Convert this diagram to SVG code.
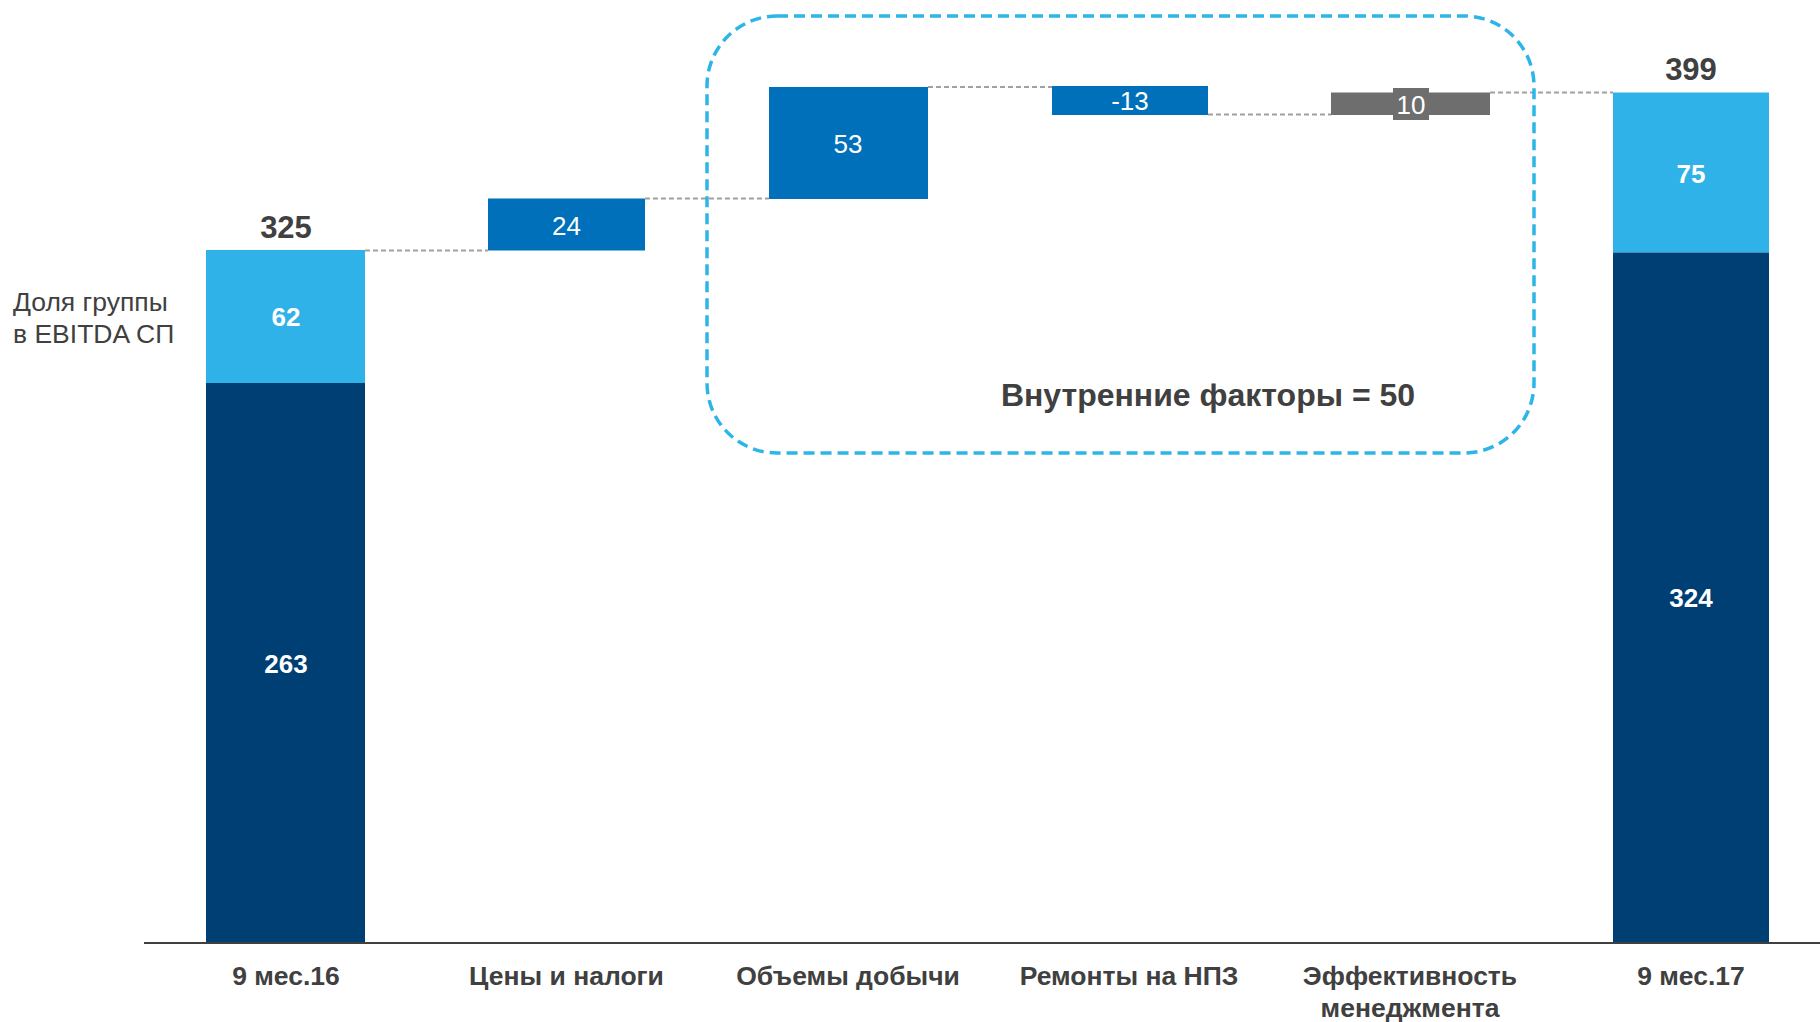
<svg xmlns="http://www.w3.org/2000/svg" width="1820" height="1022" viewBox="0 0 1820 1022">
<style>
.lb{fill:#2EB2E8}
.dk{fill:#003F74}
.md{fill:#0070BA}
.gr{fill:#6E6E6E}
.conn{stroke:#A0A0A0;stroke-width:2;stroke-dasharray:5 3;fill:none}
.t{font-family:"Liberation Sans",Arial,sans-serif}
.wb{fill:#fff;font-weight:bold;font-size:26px;text-anchor:middle}
.wn{fill:#fff;font-size:26px;text-anchor:middle}
.tot{fill:#404040;font-weight:bold;font-size:31px;text-anchor:middle}
.ax{fill:#404040;font-weight:bold;font-size:26.5px;text-anchor:middle}
</style>
<rect width="1820" height="1022" fill="#fff"/>
<g id="connectors">
<line class="conn" x1="365" y1="250.5" x2="488" y2="250.5"/>
<line class="conn" x1="645" y1="198.5" x2="769" y2="198.5"/>
<line class="conn" x1="928" y1="87" x2="1052" y2="87"/>
<line class="conn" x1="1208" y1="114.5" x2="1331" y2="114.5"/>
<line class="conn" x1="1490" y1="92.5" x2="1613" y2="92.5"/>
</g>
<g id="internal-box">
<rect x="707" y="16" width="827" height="437" rx="70" ry="70" fill="none" stroke="#2EB5E8" stroke-width="3.5" stroke-dasharray="11 6"/>
<text class="t" x="1208" y="406" font-size="32" font-weight="bold" fill="#404040" text-anchor="middle">Внутренние факторы = 50</text>
</g>
<g id="legend">
<text class="t" x="13" y="311" font-size="26.5" fill="#404040">Доля группы</text>
<text class="t" x="13" y="343" font-size="26.5" fill="#404040">в EBITDA СП</text>
</g>
<g id="bar-9m16">
<rect class="lb" x="206" y="250" width="159" height="133"/>
<rect class="dk" x="206" y="383" width="159" height="560"/>
<text class="t tot" x="286" y="238">325</text>
<text class="t wb" x="286" y="326">62</text>
<text class="t wb" x="286" y="673">263</text>
</g>
<g id="bar-prices">
<rect class="md" x="488" y="198.5" width="157" height="52"/>
<text class="t wn" x="566.5" y="235">24</text>
</g>
<g id="bar-volumes">
<rect class="md" x="769" y="87" width="159" height="112"/>
<text class="t wn" x="848" y="153">53</text>
</g>
<g id="bar-repairs">
<rect class="md" x="1052" y="86" width="156" height="29"/>
<text class="t wn" x="1130" y="110">-13</text>
</g>
<g id="bar-efficiency">
<rect class="gr" x="1331" y="92.5" width="159" height="22.5"/>
<rect class="gr" x="1393" y="88" width="36" height="32"/>
<text class="t wn" x="1411" y="114">10</text>
</g>
<g id="bar-9m17">
<rect class="lb" x="1613" y="92.5" width="156" height="160"/>
<rect class="dk" x="1613" y="252.5" width="156" height="690.5"/>
<text class="t tot" x="1691" y="80">399</text>
<text class="t wb" x="1691" y="183">75</text>
<text class="t wb" x="1691" y="607">324</text>
</g>
<g id="axis">
<line x1="144" y1="943" x2="1820" y2="943" stroke="#404040" stroke-width="2"/>
<text class="t ax" x="286" y="985">9 мес.16</text>
<text class="t ax" x="566.5" y="985">Цены и налоги</text>
<text class="t ax" x="848" y="985">Объемы добычи</text>
<text class="t ax" x="1129" y="985">Ремонты на НПЗ</text>
<text class="t ax" x="1410" y="985">Эффективность</text>
<text class="t ax" x="1410" y="1017">менеджмента</text>
<text class="t ax" x="1691" y="985">9 мес.17</text>
</g>
</svg>
